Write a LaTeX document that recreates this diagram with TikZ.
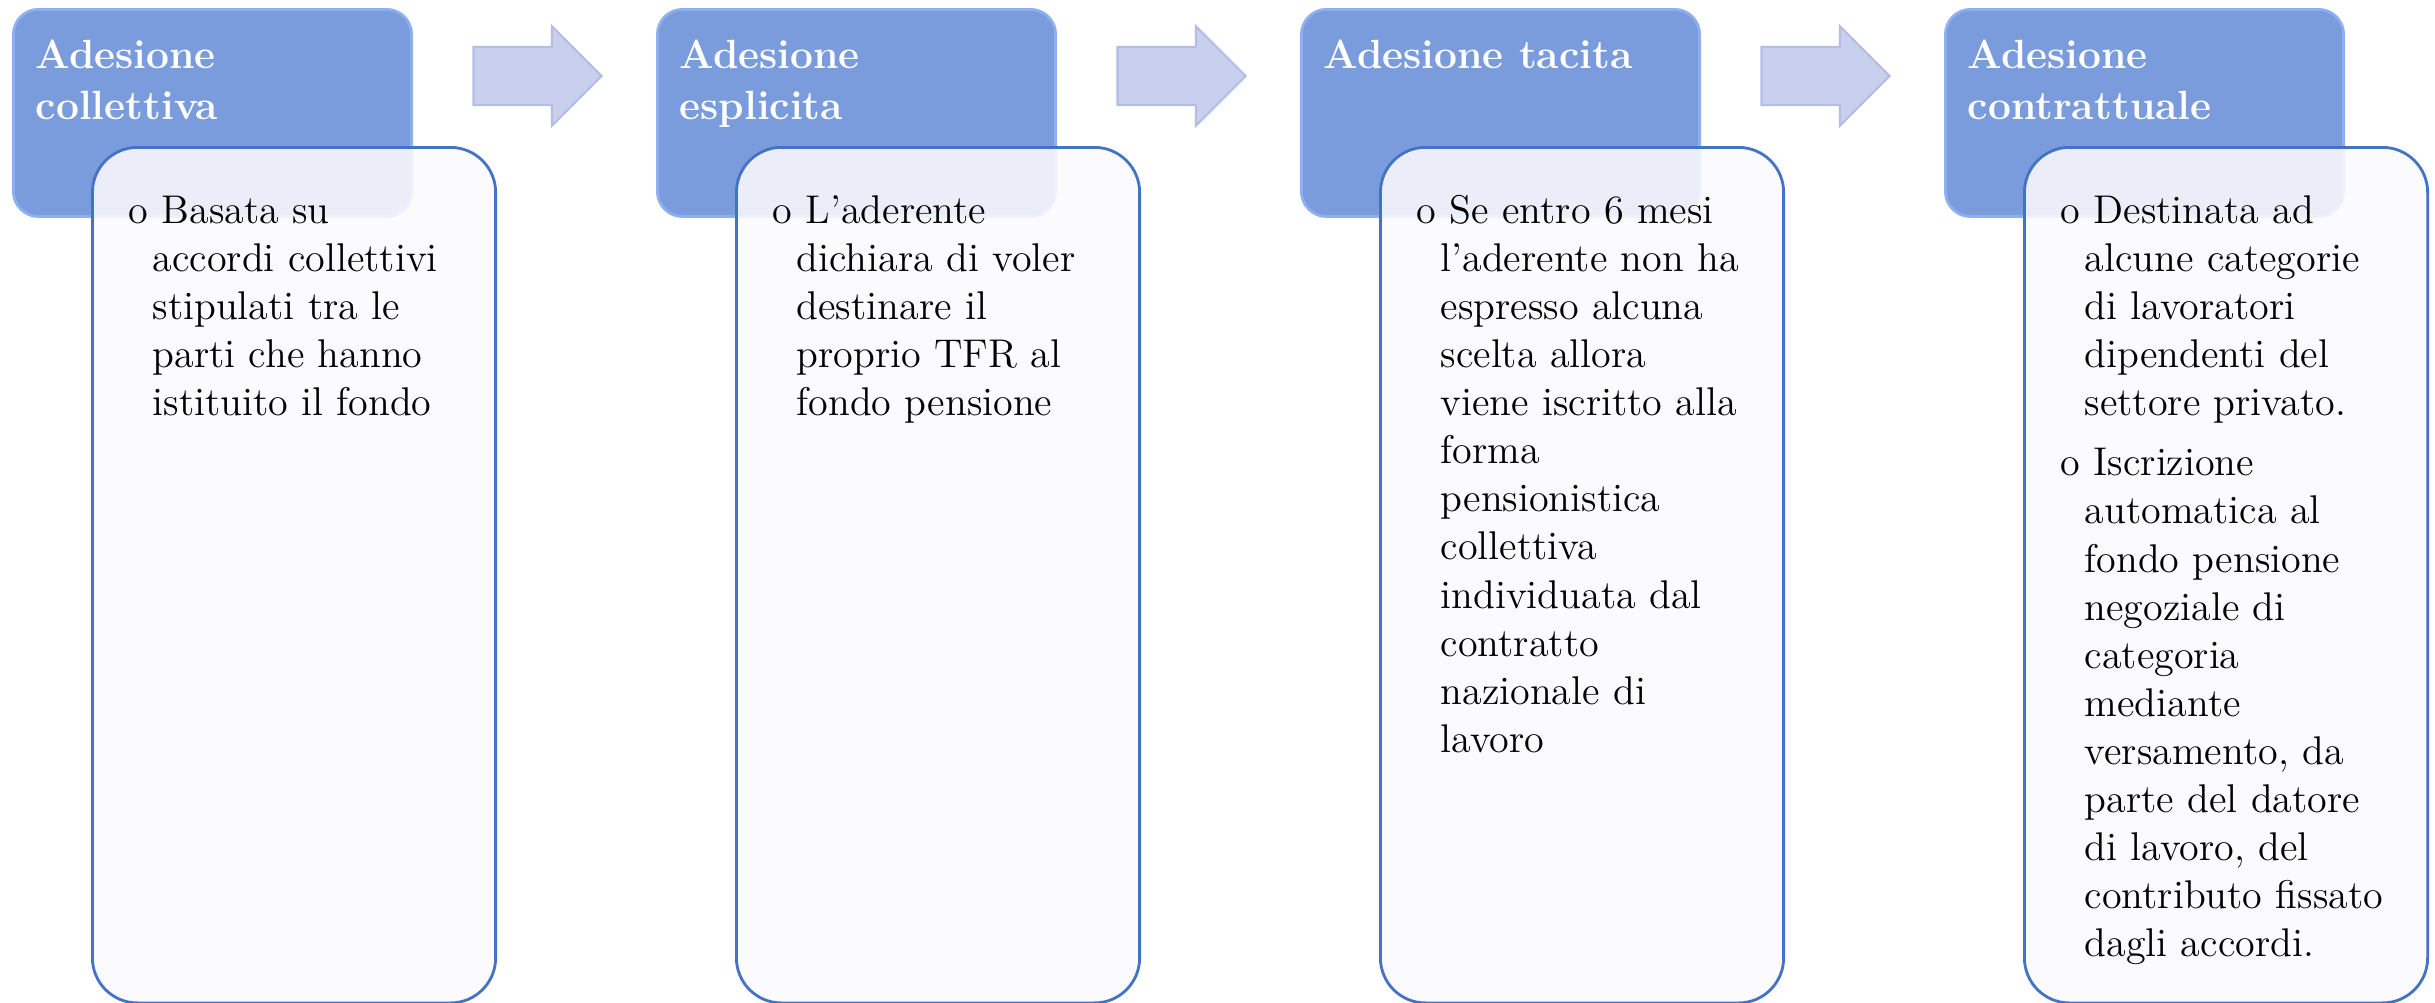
\documentclass[tikz,border=0pt]{standalone}
\usetikzlibrary{shapes.arrows}
\definecolor{headblue}{RGB}{122,156,220}
\definecolor{headedge}{RGB}{143,176,240}
\definecolor{noteedge}{RGB}{68,114,196}
\definecolor{notefill}{RGB}{251,250,254}
\definecolor{arrowfill}{RGB}{201,208,238}
\definecolor{arrowedge}{RGB}{180,190,228}
% bullet with hanging indent
\newcommand{\voce}[1]{\par\raggedright\let\\\newline\hangindent=0.24cm\hangafter=1\noindent\makebox[0.33cm][l]{o}#1\par}
\tikzset{
  headbox/.style={rectangle, rounded corners=0.25cm, fill=headblue, draw=headedge,
    line width=0.8pt, anchor=north west, inner sep=0, minimum width=3.98cm, minimum height=2.07cm},
  headtext/.style={anchor=north west, inner sep=0, align=left, text=white,
    font=\bfseries\fontsize{11.6}{14.5}\selectfont},
  notebox/.style={rectangle, rounded corners=0.45cm, fill=notefill, fill opacity=0.88,
    draw=noteedge, line width=0.8pt, anchor=north west, inner sep=0,
    minimum width=4.03cm, minimum height=8.55cm},
  notetext/.style={anchor=north west, inner sep=0, text width=3.6cm,
    font=\fontsize{11.4}{13.66}\selectfont},
  flowarrow/.style={single arrow, fill=arrowfill, draw=arrowedge, line width=0.6pt,
    inner xsep=0, inner ysep=0.28cm, minimum height=1.28cm, minimum width=0.97cm,
    single arrow head extend=0.205cm}
}
\begin{document}
\begin{tikzpicture}[x=0.01cm, y=-0.01cm]
  \useasboundingbox (0,0) rectangle (2435,1003);
  % headers
  \node[headbox] (hd1) at (12,8) {};
  \node[headbox] (hd2) at (656,8) {};
  \node[headbox] (hd3) at (1300,8) {};
  \node[headbox] (hd4) at (1944,8) {};
  \node[headtext] (ht1) at (35,39) {Adesione\\collettiva};
  \node[headtext] (ht2) at (679,39) {Adesione\\esplicita};
  \node[headtext] (ht3) at (1323,39) {Adesione tacita};
  \node[headtext] (ht4) at (1967,39) {Adesione\\contrattuale};
  % arrows
  \node[flowarrow] (ar1) at (523,76) {};
  \node[flowarrow] (ar2) at (1167,76) {};
  \node[flowarrow] (ar3) at (1811,76) {};
  % boxes
  \node[notebox] (nb1) at (91,146) {};
  \node[notebox] (nb2) at (735,146) {};
  \node[notebox] (nb3) at (1379,146) {};
  \node[notebox] (nb4) at (2023,146) {};
  \node[notetext] (nt1) at (128,175) {\voce{Basata su\\accordi collettivi\\stipulati tra le\\parti che hanno\\istituito il fondo}};
  \node[notetext] (nt2) at (772,175) {\voce{L'aderente\\dichiara di voler\\destinare il\\proprio TFR al\\fondo pensione}};
  \node[notetext] (nt3) at (1416,175) {\voce{Se entro 6 mesi\\l'aderente non ha\\espresso alcuna\\scelta allora\\viene iscritto alla\\forma\\pensionistica\\collettiva\\individuata dal\\contratto\\nazionale di\\lavoro}};
  \node[notetext] (nt4) at (2060,175) {\voce{Destinata ad\\alcune categorie\\di lavoratori\\dipendenti del\\settore privato.}\vspace{0.12cm}\voce{Iscrizione\\automatica al\\fondo pensione\\negoziale di\\categoria\\mediante\\versamento, da\\parte del datore\\di lavoro, del\\contributo fissato\\dagli accordi.}};
\end{tikzpicture}
\end{document}
